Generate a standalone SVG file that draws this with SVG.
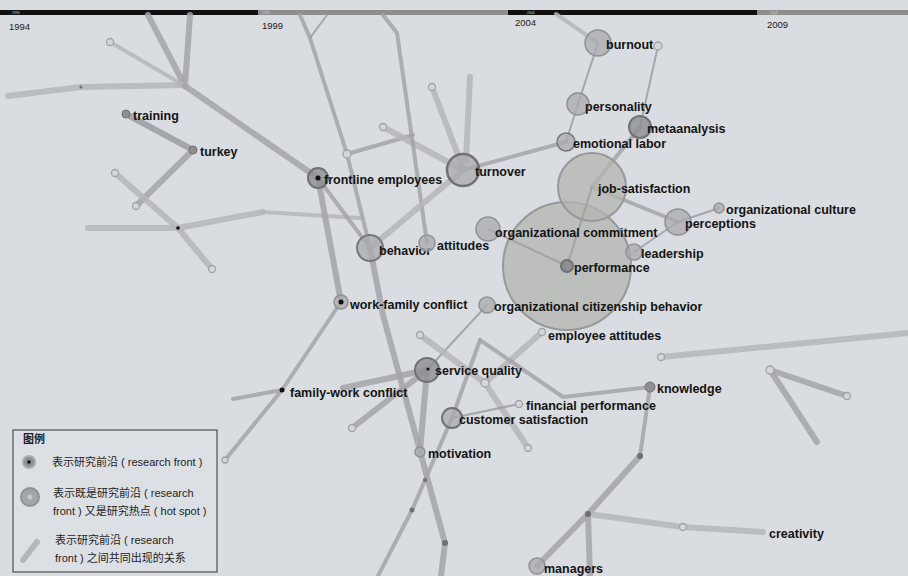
<svg xmlns="http://www.w3.org/2000/svg" width="908" height="576" viewBox="0 0 908 576">
<style>
.bg{fill:#d9dce1}
.e{fill:none;stroke:#a3a5a8;stroke-linecap:round;stroke-linejoin:round;stroke-opacity:.85}
.t{stroke-width:6}
.l{stroke:#b4b6b9}
.m{stroke-width:4}
.s{stroke-width:2;stroke:#9c9ea1}
.ec{fill:#d4d6da;stroke:#a0a2a5;stroke-width:1.3}
.dot{fill:#6e7073}
.bd{fill:#111}
.n{fill:#a9abae;fill-opacity:.75;stroke:#8f9194;stroke-width:1.5}
.nd{fill:#8d8f92;stroke:#6f7174;stroke-width:2}
.big{fill:#b3b5b0;fill-opacity:.75;stroke:#96989a;stroke-width:2}
.lb{font-family:"Liberation Sans",Arial,sans-serif;font-weight:bold;font-size:12.5px;fill:#141414}
.yr{font-family:"Liberation Sans",Arial,sans-serif;font-size:9.5px;fill:#222}
.ty{font-family:"Liberation Sans",Arial,sans-serif;font-size:3.5px;fill:#ccc}
.lg{font-family:"Liberation Sans","Noto Sans CJK SC",sans-serif;font-size:11px;fill:#1e1e1e}
</style>
<rect class="bg" x="0" y="0" width="908" height="576"/>
<g id="timeline">
<rect x="0" y="10" width="258" height="5" fill="#111"/>
<rect x="258" y="10" width="250" height="5" fill="#8e8e8e"/>
<rect x="508" y="10" width="249" height="5" fill="#111"/>
<rect x="757" y="10" width="151" height="5" fill="#8e8e8e"/>
<text class="ty" x="12" y="14">1994</text>
<text class="ty" x="262" y="14">1999</text>
<text class="ty" x="527" y="14">2004</text>
<text class="ty" x="770" y="14">2009</text>
<text class="yr" x="9" y="30">1994</text>
<text class="yr" x="262" y="29">1999</text>
<text class="yr" x="515" y="26">2004</text>
<text class="yr" x="767" y="28">2009</text>
</g>
<g id="connectors">
<polyline class="e m l" points="110,42 185,86"/>
<polyline class="e t" points="148,15 185,86"/>
<polyline class="e t" points="190,15 185,86"/>
<polyline class="e t l" points="8,96 81,87 185,85"/>
<polyline class="e t" points="185,86 318,178"/>
<polyline class="e t" points="126,114 193,150" style="stroke:#9a9c9f"/>
<polyline class="e t" points="193,150 136,206"/>
<polyline class="e t l" points="115,173 178,228 212,269"/>
<polyline class="e t l" points="88,228 178,228 263,212"/>
<polyline class="e m l" points="263,212 360,218"/>
<polyline class="e t" points="318,178 341,302"/>
<polyline class="e m" points="318,178 370,248"/>
<polyline class="e m" points="300,15 310,38 347,154 370,248"/>
<polyline class="e s" points="310,38 327,15"/>
<polyline class="e m" points="347,154 413,135"/>
<polyline class="e t l" points="383,127 463,170"/>
<polyline class="e m" points="383,15 397,33 427,243"/>
<polyline class="e t l" points="432,87 463,168"/>
<polyline class="e t l" points="470,77 466,160"/>
<polyline class="e m" points="463,170 566,142"/>
<polyline class="e t l" points="463,170 370,248"/>
<polyline class="e t" points="370,248 383,315 445,543 441,576"/>
<polyline class="e m" points="341,302 282,390 225,460"/>
<polyline class="e m" points="233,399 282,390"/>
<polyline class="e t" points="343,388 427,370"/>
<polyline class="e t" points="352,428 427,370"/>
<polyline class="e t" points="427,370 420,452"/>
<polyline class="e s" points="427,370 487,305"/>
<polyline class="e t l" points="420,335 485,383 528,448"/>
<polyline class="e t l" points="542,332 485,383"/>
<polyline class="e m" points="480,340 452,418 412,510 378,576"/>
<polyline class="e m" points="480,340 563,397 650,387"/>
<polyline class="e s" points="452,418 519,404"/>
<polyline class="e m" points="650,387 640,456"/>
<polyline class="e t" points="640,456 588,514 537,566"/>
<polyline class="e t" points="588,514 590,576"/>
<polyline class="e t l" points="588,514 683,527 763,532"/>
<polyline class="e t l" points="661,357 908,333"/>
<polyline class="e t" points="770,370 847,396"/>
<polyline class="e t" points="770,370 817,442"/>
<polyline class="e m l" points="556,14 598,43"/>
<polyline class="e s" points="598,43 578,104"/>
<polyline class="e s" points="658,46 640,127"/>
<polyline class="e s" points="578,104 566,142"/>
<polyline class="e m" points="640,127 592,187"/>
<polyline class="e m" points="592,187 678,222"/>
<polyline class="e s" points="678,222 719,208"/>
<polyline class="e s" points="678,222 634,252"/>
<circle class="ec" cx="110" cy="42" r="3.5"/>
<circle class="ec" cx="136" cy="206" r="3.5"/>
<circle class="ec" cx="115" cy="173" r="3.5"/>
<circle class="ec" cx="212" cy="269" r="3.5"/>
<circle class="ec" cx="347" cy="154" r="4"/>
<circle class="ec" cx="383" cy="127" r="3.5"/>
<circle class="ec" cx="432" cy="87" r="3.5"/>
<circle class="ec" cx="225" cy="460" r="3"/>
<circle class="ec" cx="352" cy="428" r="3.5"/>
<circle class="ec" cx="420" cy="335" r="3.5"/>
<circle class="ec" cx="485" cy="383" r="4"/>
<circle class="ec" cx="528" cy="448" r="3.5"/>
<circle class="ec" cx="683" cy="527" r="3.5"/>
<circle class="ec" cx="661" cy="357" r="3.5"/>
<circle class="ec" cx="770" cy="370" r="4"/>
<circle class="ec" cx="847" cy="396" r="3.5"/>
<circle class="ec" cx="658" cy="46" r="4"/>
<circle class="dot" cx="81" cy="87" r="1.5"/>
<circle class="bd" cx="178" cy="228" r="1.8"/>
<circle class="dot" cx="412" cy="510" r="2.5"/>
<circle class="dot" cx="425" cy="480" r="2"/>
<circle class="dot" cx="445" cy="543" r="3"/>
<circle class="dot" cx="640" cy="456" r="3"/>
<circle class="dot" cx="588" cy="514" r="3"/>
</g>
<g id="n-performance-area"><circle class="big" cx="567" cy="266" r="64"/></g>
<g id="n-job-satisfaction"><circle class="big" cx="592" cy="187" r="34"/><text class="lb" x="598" y="193">job-satisfaction</text></g>
<g id="inner-links">
<polyline class="e s" points="488,229 567,266"/>
<polyline class="e s" points="592,187 567,266"/>
</g>
<g id="n-performance"><circle class="nd" cx="567" cy="266" r="6"/><text class="lb" x="574" y="272">performance</text></g>
<g id="n-training"><circle class="nd" cx="126" cy="114" r="4" style="stroke-width:1"/><text class="lb" x="133" y="120">training</text></g>
<g id="n-turkey"><circle class="nd" cx="193" cy="150" r="4" style="stroke-width:1"/><text class="lb" x="200" y="156">turkey</text></g>
<g id="n-frontline-employees"><circle class="nd" cx="318" cy="178" r="10" style="fill-opacity:.8"/><circle class="bd" cx="318" cy="178" r="2.5"/><text class="lb" x="324" y="184">frontline employees</text></g>
<g id="n-turnover"><circle class="n" cx="463" cy="170" r="16" style="stroke:#6f7174;stroke-width:2.5"/><text class="lb" x="475" y="176">turnover</text></g>
<g id="n-behavior"><circle class="n" cx="370" cy="248" r="13" style="stroke:#76787b;stroke-width:2"/><text class="lb" x="379" y="255">behavior</text></g>
<g id="n-attitudes"><circle class="n" cx="427" cy="243" r="8"/><text class="lb" x="437" y="250">attitudes</text></g>
<g id="n-work-family-conflict"><circle class="n" cx="341" cy="302" r="7"/><circle class="bd" cx="341" cy="302" r="2.5"/><text class="lb" x="350" y="309">work-family conflict</text></g>
<g id="n-family-work-conflict"><circle class="bd" cx="282" cy="390" r="2.5"/><text class="lb" x="290" y="397">family-work conflict</text></g>
<g id="n-service-quality"><circle class="nd" cx="427" cy="370" r="12" style="fill-opacity:.8"/><circle class="bd" cx="428" cy="369" r="1.5"/><text class="lb" x="435" y="375">service quality</text></g>
<g id="n-customer-satisfaction"><circle class="n" cx="452" cy="418" r="10" style="stroke:#6f7174;stroke-width:2"/><text class="lb" x="459" y="424">customer satisfaction</text></g>
<g id="n-motivation"><circle class="n" cx="420" cy="452" r="5"/><text class="lb" x="428" y="458">motivation</text></g>
<g id="n-financial-performance"><circle class="ec" cx="519" cy="404" r="3.5"/><text class="lb" x="526" y="410">financial performance</text></g>
<g id="n-knowledge"><circle class="nd" cx="650" cy="387" r="5" style="stroke-width:1"/><text class="lb" x="657" y="393">knowledge</text></g>
<g id="n-managers"><circle class="n" cx="537" cy="566" r="8"/><text class="lb" x="544" y="573">managers</text></g>
<g id="n-creativity"><text class="lb" x="769" y="538">creativity</text></g>
<g id="n-burnout"><circle class="n" cx="598" cy="43" r="13"/><text class="lb" x="606" y="49">burnout</text></g>
<g id="n-personality"><circle class="n" cx="578" cy="104" r="11"/><text class="lb" x="585" y="111">personality</text></g>
<g id="n-metaanalysis"><circle class="nd" cx="640" cy="127" r="11" style="fill-opacity:.8"/><text class="lb" x="647" y="133">metaanalysis</text></g>
<g id="n-emotional-labor"><circle class="n" cx="566" cy="142" r="9" style="stroke:#76787b"/><text class="lb" x="573" y="148">emotional labor</text></g>
<g id="n-organizational-commitment"><circle class="n" cx="488" cy="229" r="12"/><text class="lb" x="495" y="237">organizational commitment</text></g>
<g id="n-leadership"><circle class="n" cx="634" cy="252" r="8"/><text class="lb" x="641" y="258">leadership</text></g>
<g id="n-perceptions"><circle class="n" cx="678" cy="222" r="13"/><text class="lb" x="685" y="228">perceptions</text></g>
<g id="n-organizational-culture"><circle class="n" cx="719" cy="208" r="5"/><text class="lb" x="726" y="214">organizational culture</text></g>
<g id="n-organizational-citizenship-behavior"><circle class="n" cx="487" cy="305" r="8"/><text class="lb" x="494" y="311">organizational citizenship behavior</text></g>
<g id="n-employee-attitudes"><circle class="ec" cx="542" cy="332" r="3.5"/><text class="lb" x="548" y="340">employee attitudes</text></g>
<g id="legend">
<rect x="13" y="430" width="204" height="142" fill="#dcdfe3" stroke="#333" stroke-width="1"/>
<text class="lg" x="23" y="443" style="font-weight:bold">图例</text>
<circle cx="29" cy="462" r="6" fill="#8d8f92" stroke="#a9abae" stroke-width="2"/>
<circle cx="29" cy="462" r="1.8" fill="#111"/>
<text class="lg" x="52" y="466">表示研究前沿 ( research front )</text>
<circle cx="30" cy="497" r="9" fill="#a3a5a8" stroke="#8f9194" stroke-width="2"/>
<circle cx="30" cy="497" r="2.5" fill="#c4c6c9"/>
<text class="lg" x="53" y="497">表示既是研究前沿 ( research</text>
<text class="lg" x="53" y="515">front ) 又是研究热点 ( hot spot )</text>
<line x1="23" y1="560" x2="37" y2="542" stroke="#b4b6b9" stroke-width="6" stroke-linecap="round"/>
<text class="lg" x="55" y="544">表示研究前沿 ( research</text>
<text class="lg" x="55" y="562">front ) 之间共同出现的关系</text>
</g>
</svg>
